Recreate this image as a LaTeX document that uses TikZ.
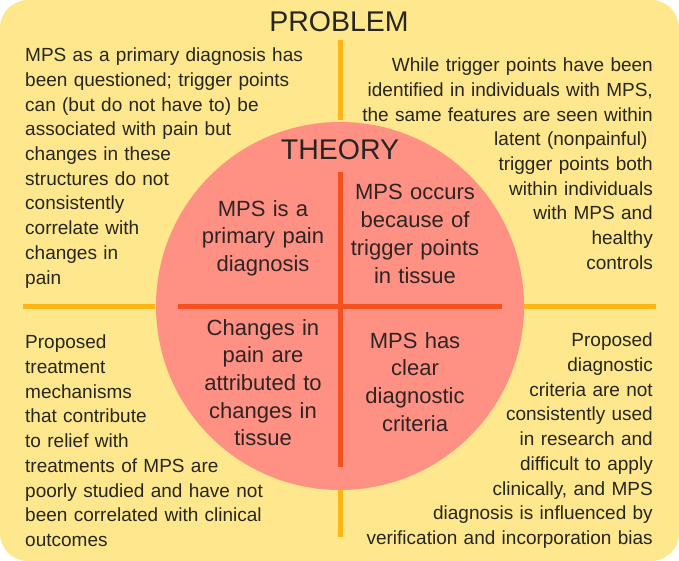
\documentclass[tikz,border=0pt]{standalone}
\usepackage{fontspec}
\setmainfont{Liberation Sans}
\definecolor{bgyellow}{HTML}{FEE78C}
\definecolor{salmon}{HTML}{FE9184}
\definecolor{lineorange}{HTML}{FDB515}
\definecolor{linered}{HTML}{F4511E}
\definecolor{txt}{HTML}{262622}
\definecolor{txtin}{HTML}{2E2424}
\tikzset{
  body/.style={font=\fontsize{19}{24.7}\selectfont, text=txt, inner sep=0pt, text width=340pt},
  innertext/.style={font=\fontsize{22}{27.7}\selectfont, text=txtin, inner sep=0pt, align=center, text width=160pt, anchor=base},
  titletext/.style={font=\fontsize{28.5}{34}\selectfont, text=txt, inner sep=0pt, anchor=base},
  outerline/.style={draw=lineorange, line width=5pt},
  innerline/.style={draw=linered, line width=5pt},
}
\begin{document}
\begin{tikzpicture}[x=1pt,y=-1pt]
\useasboundingbox (0,0) rectangle (679,561);
\fill[white] (0,0) rectangle (679,561);
\fill[bgyellow, rounded corners=28pt] (0,0) rectangle (679,561);
\fill[salmon] (340,306) circle[radius=184pt];
% axes
\draw[outerline] (23,306) -- (155,306);
\draw[outerline] (523,306) -- (656,306);
\draw[outerline] (340,40) -- (340,120);
\draw[outerline] (340,490) -- (340,537);
\draw[innerline] (178,306) -- (502,306);
\draw[innerline] (340,172) -- (340,467);
% titles
\node[titletext] (problem) at (339,32) {PROBLEM};
\node[titletext] (theory) at (340,160) {THEORY};
% outer quadrants
\node[body, anchor=base west, align=left] (tl) at (25,61.8)
  {MPS as a primary diagnosis has\\been questioned; trigger points\\can (but do not have to) be\\associated with pain but\\changes in these\\structures do not\\consistently\\correlate with\\changes in\\pain};
\node[body, anchor=base east, align=right] (tr) at (653,71.8)
  {While trigger points have been\\identified in individuals with MPS,\\the same features are seen within\\latent (nonpainful)\kern5.4pt\\trigger points both\\within individuals\\with MPS and\\healthy\\controls};
\node[body, anchor=base west, align=left] (bl) at (25,348.8)
  {Proposed\\treatment\\mechanisms\\that contribute\\to relief with\\treatments of MPS are\\poorly studied and have not\\been correlated with clinical\\outcomes};
\node[body, anchor=base east, align=right] (br) at (653,346.8)
  {Proposed\\diagnostic\\criteria are not\\consistently used\\in research and\\difficult to apply\\clinically, and MPS\\diagnosis is influenced by\\verification and incorporation bias};
% inner quadrants
\node[innertext] (itl) at (263,216) {MPS is a\\primary pain\\diagnosis};
\node[innertext] (itr) at (415,200) {MPS occurs\\because of\\trigger points\\in tissue};
\node[innertext] (ibl) at (263,335) {Changes in\\pain are\\attributed to\\changes in\\tissue};
\node[innertext] (ibr) at (415,348) {MPS has\\clear\\diagnostic\\criteria};
\end{tikzpicture}
\end{document}
